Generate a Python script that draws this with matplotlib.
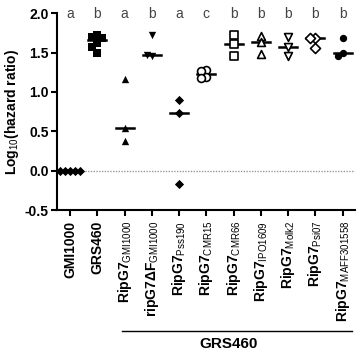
import numpy as np
import matplotlib
matplotlib.use('Agg')
import matplotlib.pyplot as plt

plt.rcParams['font.family'] = ['Liberation Sans', 'DejaVu Sans']
plt.rcParams['mathtext.fontset'] = 'custom'
plt.rcParams['mathtext.rm'] = 'Liberation Sans'
plt.rcParams['mathtext.it'] = 'Liberation Sans:italic'
plt.rcParams['mathtext.bf'] = 'Liberation Sans:bold'

# strains / constructs
labels = ['GMI1000', 'GRS460',
          'RipG7$_{\\mathrm{GMI1000}}$', 'ripG7\u0394F$_{\\mathrm{GMI1000}}$',
          'RipG7$_{\\mathrm{Pss190}}$', 'RipG7$_{\\mathrm{CMR15}}$',
          'RipG7$_{\\mathrm{CMR66}}$', 'RipG7$_{\\mathrm{IPO1609}}$',
          'RipG7$_{\\mathrm{Molk2}}$', 'RipG7$_{\\mathrm{Psi07}}$',
          'RipG7$_{\\mathrm{MAFF301558}}$']
# log10(hazard ratio) replicates
v_gmi = [0.0, 0.0, 0.0, 0.0, 0.0]
v_grs = [1.72, 1.70, 1.69, 1.62, 1.57, 1.49]
v_g7gmi = [1.16, 0.54, 0.38]
v_dF = [1.72, 1.46, 1.47]
v_pss = [0.90, 0.73, -0.17]
v_cmr15 = [1.28, 1.27, 1.19, 1.18]
v_cmr66 = [1.72, 1.61, 1.45]
v_ipo = [1.71, 1.63, 1.48]
v_molk = [1.70, 1.57, 1.45]
v_psi = [1.69, 1.68, 1.56]
v_maff = [1.68, 1.49, 1.46]
letters = ['a', 'b', 'a', 'b', 'a', 'c', 'b', 'b', 'b', 'b', 'b']

groups = [v_gmi, v_grs, v_g7gmi, v_dF, v_pss, v_cmr15, v_cmr66, v_ipo, v_molk, v_psi, v_maff]
markers = ['D', 's', '^', 'v', 'D', 'o', 's', '^', 'v', 'D', 'o']
filled = [True, True, True, True, True, False, False, False, False, False, True]
msize = [22, 30, 28, 28, 22, 32, 30, 32, 32, 26, 28]


def spread(vals, step=0.18, dy=0.06):
    # simple beeswarm-like horizontal offsets
    placed = []
    out = []
    for v in vals:
        for off in [0, -step, step, -2 * step, 2 * step, -3 * step, 3 * step]:
            if all(abs(off - po) > step * 0.9 or abs(v - pv) > dy for po, pv in placed):
                break
        placed.append((off, v))
        out.append(off)
    return np.array(out)


fig = plt.figure(figsize=(3.61, 3.55), dpi=100)
ax = fig.add_axes([0.158, 0.408, 0.825, 0.555])

ax.axhline(0, color='#999999', lw=1, ls=(0, (1, 1)), zorder=1)

for i, vals in enumerate(groups):
    vals = np.array(vals)
    x = i + spread(vals)
    if filled[i]:
        ax.scatter(x, vals, marker=markers[i], s=msize[i], c='black', lw=0, zorder=3)
    else:
        ax.scatter(x, vals, marker=markers[i], s=msize[i], facecolors='white',
                   edgecolors='black', lw=1.2, zorder=3)
    med = np.median(vals)
    ax.plot([i - 0.33, i + 0.33], [med, med], color='black', lw=1.8, zorder=2)
    ax.text(i, 1.99, letters[i], ha='center', va='center', fontsize=10, color='#444444')

ax.set_xlim(-0.48, 10.45)
ax.set_ylim(-0.5, 2.0)
ax.set_yticks([-0.5, 0.0, 0.5, 1.0, 1.5, 2.0])
ax.set_yticklabels(['-0.5', '0.0', '0.5', '1.0', '1.5', '2.0'], fontweight='bold', fontsize=10)
ax.set_xticks(range(len(labels)))
ax.set_xticklabels(labels, rotation=90, fontweight='bold', fontsize=10)
ax.set_ylabel('Log$_{\\mathrm{10}}$(hazard ratio)', fontweight='bold', fontsize=10, labelpad=3)

for s in ['top', 'right']:
    ax.spines[s].set_visible(False)
for s in ['left', 'bottom']:
    ax.spines[s].set_linewidth(1.5)
ax.tick_params(width=1.5, length=4, pad=2)
ax.tick_params(axis='x', pad=3.5)

# GRS460 background bracket
tr = ax.get_xaxis_transform()
ax.plot([1.9, 10.33], [-0.615, -0.615], color='black', lw=1, transform=tr, clip_on=False)
ax.text(5.8, -0.68, 'GRS460', ha='center', va='center', fontweight='bold', fontsize=11, transform=tr)

fig.savefig('out.png', dpi=100)
